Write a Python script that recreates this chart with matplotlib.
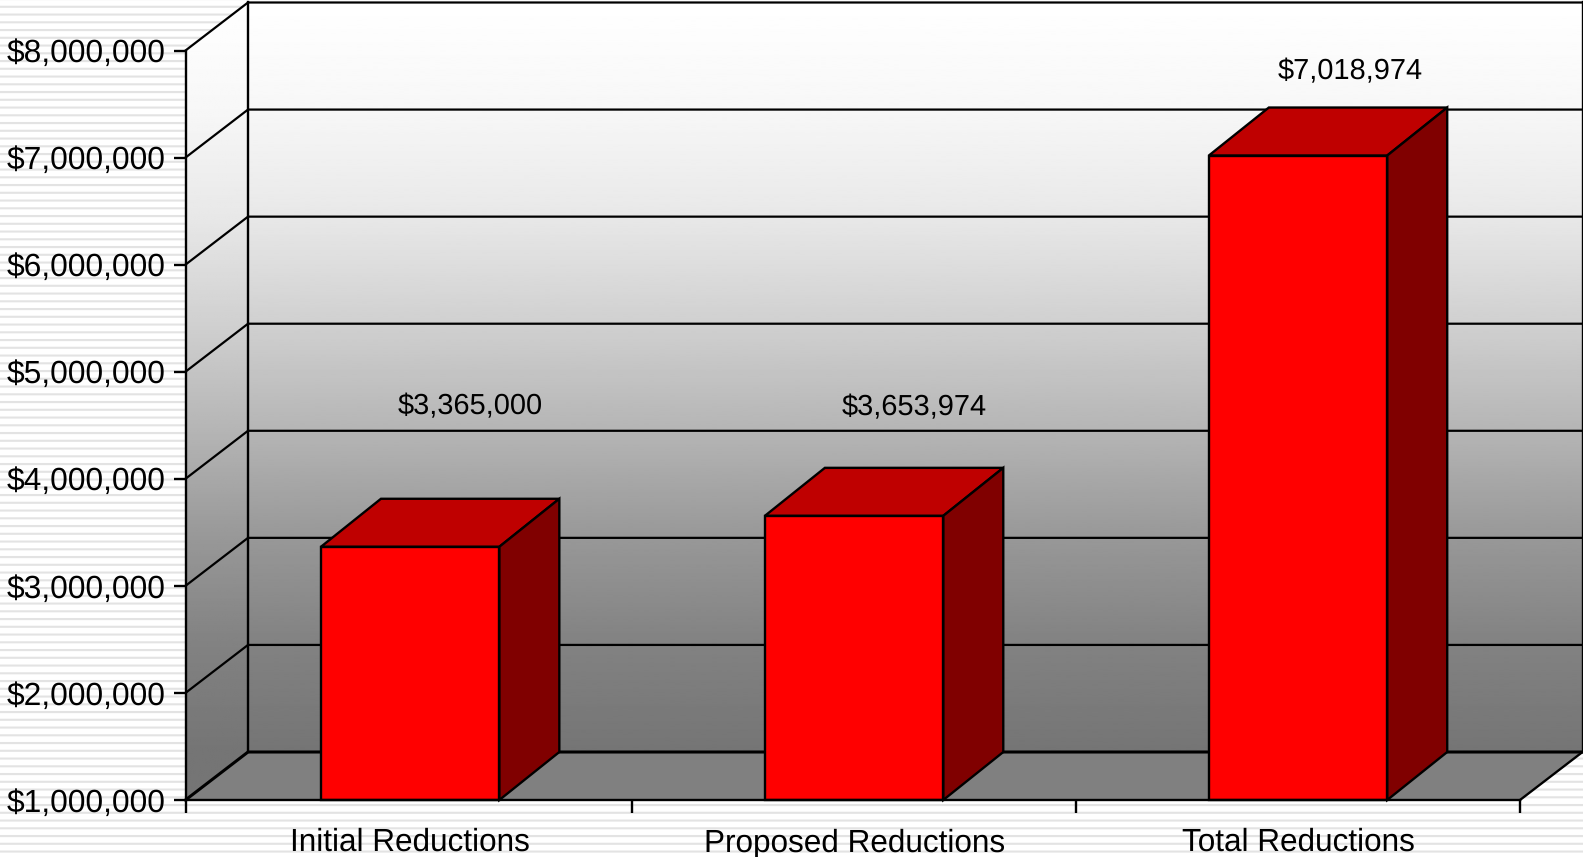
import numpy as np
import matplotlib
matplotlib.use('Agg')
import matplotlib.pyplot as plt
from matplotlib.patches import Polygon
from matplotlib.ticker import FuncFormatter

categories = ['Initial Reductions', 'Proposed Reductions', 'Total Reductions']
values = [3365000, 3653974, 7018974]
y_ticks = [1000000, 2000000, 3000000, 4000000, 5000000, 6000000, 7000000, 8000000]
# grey of the back wall at each y tick
wall_grey = [117, 130, 152, 181, 208, 232, 247, 255]

# hand placed labels in the original, offset from the front top of the bar (px)
label_dx = [60, 60, 52.5]
label_dy = [140, 108, 84]

W, H = 1583, 857
plt.rcParams['font.family'] = ['Liberation Sans', 'DejaVu Sans']
plt.rcParams['text.hinting'] = 'no_hinting'

fig = plt.figure(figsize=(W / 100, H / 100), dpi=100, facecolor='white')

# striped slide background
period = 7.75
yy = np.arange(H)
dist = np.abs((yy - 68.3 + period / 2) % period - period / 2)
stripes = 255 - 27 * np.clip(1.6 - dist, 0, 1)
fig.figimage(np.tile(stripes[:, None], (1, W)), cmap='gray', vmin=0, vmax=255, origin='upper', zorder=-5)

ax = fig.add_axes([185.5 / W, (H - 800) / H, (1520 - 185.5) / W, (800 - 50.5) / H])
ax.patch.set_visible(False)
ax.set_xlim(0, 3)
ax.set_ylim(y_ticks[0], y_ticks[-1])

# depth of the fake 3d box
dx = 62.5 / 444.8
dy = 48 / 107.07 * 1e6
bar_dx = 60 / 444.8
base = y_ticks[0]
top = y_ticks[-1]
lw = 1.7


def gradient(corners, y0, y1):
    rows = np.linspace(y1, y0, 400)
    levels = np.array(y_ticks) + dy
    g = np.interp(rows, levels, wall_grey)[:, None]
    xs = [c[0] for c in corners]
    im = ax.imshow(g, cmap='gray', vmin=0, vmax=255, aspect='auto', origin='upper',
                   extent=(min(xs), max(xs), y0, y1), zorder=1, interpolation='bilinear')
    im.set_clip_box(fig.bbox)
    im.set_clip_path(Polygon(corners, transform=ax.transData))


# walls
side = [(0, base), (0, top), (dx, top + dy), (dx, base + dy)]
back = [(dx, base + dy), (dx, top + dy), (3 + dx, top + dy), (3 + dx, base + dy)]
gradient(side, base, top + dy)
gradient(back, base + dy, top + dy)
ax.set_xlim(0, 3)
ax.set_ylim(base, top)

# floor
ax.fill([0, 3, 3 + dx, dx], [base, base, base + dy, base + dy], color='#808080', lw=0, zorder=2, clip_on=False)

# grid lines
for t in y_ticks:
    ax.plot([0, dx, 3 + dx], [t, t + dy, t + dy], color='black', lw=2.2 if t == base else lw - 0.1,
            zorder=3, clip_on=False, solid_joinstyle='miter')
ax.plot([dx, dx], [base + dy, top + dy], color='black', lw=lw, zorder=3, clip_on=False)
ax.plot([3 + dx, 3 + dx], [base + dy, top + dy], color='black', lw=lw, zorder=3, clip_on=False)
ax.plot([3, 3 + dx], [base, base + dy], color='black', lw=lw, zorder=3, clip_on=False)

# bars
width = 0.401
centers = [0.505, 1.503, 2.501]
for x, v, ldx, ldy in zip(centers, values, label_dx, label_dy):
    left, right = x - width / 2, x + width / 2
    ax.bar(x, v - base, width=width, bottom=base, color='#ff0000', edgecolor='black', lw=lw, zorder=6, clip_on=False)
    ax.fill([left, right, right + bar_dx, left + bar_dx], [v, v, v + dy, v + dy], facecolor='#bf0000',
            edgecolor='black', lw=lw, zorder=5, clip_on=False)
    ax.fill([right, right + bar_dx, right + bar_dx, right], [base, base + dy, v + dy, v], facecolor='#800000',
            edgecolor='black', lw=lw, zorder=5, clip_on=False)
    ax.annotate('${:,}'.format(v), xy=(x, v), xytext=(ldx, ldy), textcoords='offset pixels',
                ha='center', va='center', fontsize=20.9, color='black', zorder=8, annotation_clip=False)

# axes
for s in ['top', 'right']:
    ax.spines[s].set_visible(False)
for s in ['left', 'bottom']:
    ax.spines[s].set_linewidth(lw)
    ax.spines[s].set_zorder(7)

ax.set_yticks(y_ticks)
ax.yaxis.set_major_formatter(FuncFormatter(lambda v, p: '${:,.0f}'.format(v)))
ax.tick_params(axis='y', length=9, width=lw, pad=5, labelsize=22.9)
ax.set_xticks([0, 1.004, 2.002, 3])
ax.set_xticklabels([])
ax.set_xticks(centers, categories, minor=True)
ax.tick_params(axis='x', which='major', length=9.4, width=lw)
ax.tick_params(axis='x', which='minor', length=0, pad=20, labelsize=22.7)

fig.savefig('out.png', dpi=100)
